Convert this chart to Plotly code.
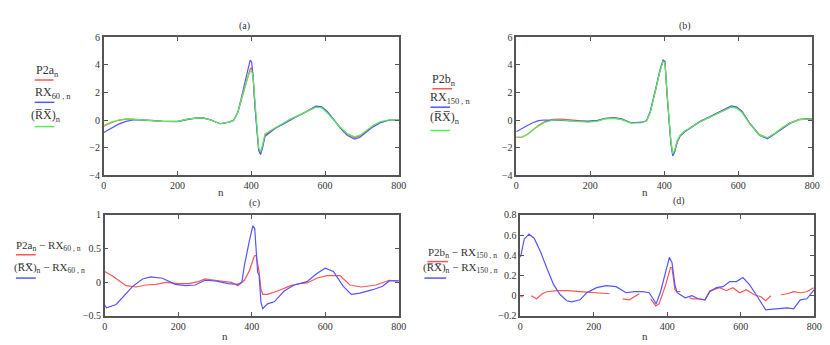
import plotly.graph_objects as go
from plotly.subplots import make_subplots

# ---- panel (a) ----
n_a = [0, 20, 40, 60, 80, 100, 130, 160, 200, 230, 250, 270, 290, 315, 340, 352, 364, 372, 381, 390,
       397, 401, 405, 410, 415, 420, 425, 430, 437, 450, 465, 485, 505, 525, 545, 560, 575, 590, 605, 620,
       640, 660, 680, 695, 710, 730, 750, 775, 800]
p2a = [-0.45, -0.2, -0.02, 0.06, 0.05, 0.0, -0.05, -0.1, -0.1, 0.08, 0.14, 0.14, 0.0, -0.27, -0.15, -0.02, 0.6, 1.4, 2.3, 3.2,
       3.7, 3.8, 3.0, 1.0, -0.9, -2.1, -2.35, -2.0, -1.1, -0.85, -0.58, -0.3, 0.03, 0.28, 0.55, 0.75, 0.95, 0.93, 0.6, 0.15,
       -0.5, -1.0, -1.28, -1.15, -0.85, -0.45, -0.18, 0.0, 0.03]
rx60 = [-0.9, -0.6, -0.3, -0.1, 0.0, 0.0, -0.02, -0.1, -0.12, 0.05, 0.14, 0.15, 0.02, -0.27, -0.15, -0.03, 0.6, 1.5, 2.5, 3.6,
        4.35, 4.2, 3.2, 1.0, -1.0, -2.2, -2.5, -2.1, -1.2, -0.9, -0.6, -0.32, 0.0, 0.27, 0.55, 0.78, 1.0, 0.98, 0.65, 0.15,
        -0.55, -1.1, -1.38, -1.25, -0.92, -0.5, -0.2, 0.0, 0.03]
rxbar_a = [-0.4, -0.15, 0.0, 0.08, 0.06, 0.0, -0.05, -0.1, -0.1, 0.08, 0.14, 0.14, 0.0, -0.27, -0.15, -0.02, 0.6, 1.4, 2.3, 3.1,
           3.5, 3.6, 3.1, 1.2, -0.8, -2.0, -2.3, -1.9, -1.0, -0.8, -0.55, -0.27, 0.05, 0.3, 0.55, 0.74, 0.92, 0.9, 0.55, 0.1,
           -0.5, -1.0, -1.22, -1.1, -0.8, -0.4, -0.12, 0.02, 0.03]

# ---- panel (b) ----
n_b = [0, 15, 30, 45, 60, 75, 100, 125, 160, 195, 220, 240, 265, 285, 310, 340, 352, 362, 377, 388,
       397, 402, 408, 413, 418, 423, 428, 435, 443, 455, 470, 497, 524, 550, 565, 581, 595, 610, 630, 657,
       679, 700, 720, 740, 765, 785, 800]
p2b = [-1.25, -1.25, -1.05, -0.7, -0.4, -0.15, 0.05, 0.07, -0.05, -0.12, -0.05, 0.1, 0.14, 0.05, -0.2, -0.18, -0.05, 0.55, 2.2, 3.5,
       4.3, 4.2, 1.8, -0.1, -1.6, -2.5, -2.3, -1.6, -1.17, -0.85, -0.6, -0.12, 0.23, 0.58, 0.8, 0.96, 0.9, 0.6, -0.2, -1.05,
       -1.3, -0.95, -0.55, -0.2, 0.05, 0.1, 0.08]
rx150 = [-0.85, -0.6, -0.4, -0.2, -0.05, 0.0, 0.0, -0.02, -0.08, -0.08, -0.02, 0.12, 0.17, 0.08, -0.2, -0.16, -0.05, 0.6, 2.3, 3.6,
         4.35, 4.25, 1.7, -0.2, -1.7, -2.6, -2.35, -1.6, -1.15, -0.85, -0.58, -0.1, 0.25, 0.6, 0.85, 1.02, 0.95, 0.65, -0.2, -1.1,
         -1.37, -1.0, -0.6, -0.25, 0.03, 0.08, 0.08]
rxbar_b = [-1.25, -1.25, -1.05, -0.7, -0.45, -0.2, 0.0, 0.0, -0.1, -0.15, -0.08, 0.08, 0.12, 0.03, -0.22, -0.2, -0.05, 0.5, 2.2, 3.5,
           4.25, 4.15, 1.8, -0.1, -1.5, -2.45, -2.2, -1.5, -1.1, -0.8, -0.58, -0.12, 0.22, 0.55, 0.78, 0.93, 0.86, 0.55, -0.25, -1.1,
           -1.28, -0.95, -0.55, -0.22, 0.03, 0.08, 0.08]

# ---- panel (c) ----
n_c_red = [0, 22, 40, 58, 85, 112, 139, 166, 201, 228, 255, 273, 300, 327, 345, 362, 380, 394, 407, 412,
           416, 420, 425, 430, 443, 470, 506, 530, 550, 577, 604, 640, 667, 698, 738, 774, 800]
diff_p2a = [0.16, 0.09, 0.02, -0.05, -0.07, -0.04, -0.03, 0.0, -0.02, -0.02, 0.01, 0.05, 0.03, 0.01, 0.0, -0.05, 0.03, 0.18, 0.39, 0.4,
            0.3, 0.15, -0.1, -0.18, -0.18, -0.13, -0.05, -0.02, -0.01, 0.06, 0.1, 0.1, -0.04, -0.07, -0.04, 0.03, 0.02]
n_c_blue = [0, 5, 31, 58, 76, 103, 125, 157, 192, 219, 246, 273, 300, 336, 362, 373, 380, 394, 403, 408,
            412, 416, 420, 425, 430, 443, 461, 488, 515, 550, 577, 600, 622, 649, 671, 694, 729, 756, 774, 800]
diff_bar_a = [-0.34, -0.38, -0.33, -0.16, -0.06, 0.05, 0.08, 0.06, -0.03, -0.05, -0.04, 0.03, 0.02, -0.02, -0.03, 0.0, 0.25, 0.63, 0.84, 0.8,
              0.39, 0.15, 0.1, -0.3, -0.39, -0.32, -0.29, -0.13, -0.04, 0.01, 0.13, 0.21, 0.16, -0.06, -0.18, -0.16, -0.11, -0.06, 0.02, 0.02]

# ---- panel (d) ----
n_d_red = [0, 8, 18, 30, 45, 60, 73, 100, 130, 163, 208, 243, 262, 279, 297, 324, 340, 355, 369, 378,
           396, 409, 413, 421, 427, 436, 448, 460, 470, 485, 503, 516, 543, 561, 579, 597, 615, 637, 655, 668,
           682, 696, 710, 727, 744, 762, 780, 798]
diff_p2b = [-0.01, -0.01, None, 0.0, -0.03, 0.02, 0.04, 0.05, 0.05, 0.04, 0.03, 0.02, None, -0.03, -0.04, 0.02, None, -0.03, -0.1, -0.08,
            0.11, 0.28, 0.28, 0.06, 0.04, 0.04, None, -0.02, -0.03, -0.03, -0.04, 0.05, 0.08, 0.05, 0.08, 0.03, 0.06, 0.01, -0.01, -0.05,
            0.0, None, 0.01, 0.02, 0.04, 0.03, 0.04, 0.08]
n_d_blue = [0, 2, 11, 24, 38, 56, 73, 91, 109, 127, 140, 163, 181, 208, 234, 261, 288, 311, 333, 351,
            360, 370, 382, 397, 406, 413, 421, 427, 449, 467, 485, 503, 516, 534, 552, 570, 588, 606, 624, 642,
            655, 668, 695, 727, 744, 762, 780, 800]
diff_bar_b = [0.38, 0.4, 0.56, 0.61, 0.57, 0.43, 0.27, 0.11, 0.01, -0.05, -0.06, -0.04, 0.03, 0.08, 0.1, 0.09, 0.03, 0.04, 0.04, 0.03,
              -0.02, -0.08, 0.04, 0.24, 0.38, 0.33, 0.11, 0.03, -0.02, 0.0, -0.03, -0.04, 0.04, 0.08, 0.09, 0.14, 0.14, 0.18, 0.11, 0.01,
              -0.07, -0.14, -0.13, -0.12, -0.13, -0.04, -0.03, 0.06]

RED = "rgb(255,85,85)"
BLUE = "rgb(85,85,255)"
GREEN = "rgb(85,240,85)"
W, H = 830, 345
FONT = "Liberation Serif, Times New Roman, serif"

fig = make_subplots(rows=2, cols=2)

def line(x, y, color, r, c):
    fig.add_trace(go.Scatter(x=x, y=y, mode="lines", line=dict(color=color, width=1.2),
                             connectgaps=False, showlegend=False, hoverinfo="skip"), row=r, col=c)

line(n_a, p2a, RED, 1, 1)
line(n_a, rx60, BLUE, 1, 1)
line(n_a, rxbar_a, GREEN, 1, 1)
line(n_b, p2b, RED, 1, 2)
line(n_b, rx150, BLUE, 1, 2)
line(n_b, rxbar_b, GREEN, 1, 2)
line(n_c_red, diff_p2a, RED, 2, 1)
line(n_c_blue, diff_bar_a, BLUE, 2, 1)
line(n_d_red, diff_p2b, RED, 2, 2)
line(n_d_blue, diff_bar_b, BLUE, 2, 2)

# plot boxes in pixels: left, right, top, bottom
boxes = {1: (94, 393, 25, 167), 2: (512, 812, 25, 167), 3: (95, 393, 208, 312), 4: (516, 814, 208, 312)}
yranges = {1: (-4, 6, 2), 2: (-4, 6, 2), 3: (-0.5, 1, 0.5), 4: (-0.2, 0.8, 0.2)}

axis_style = dict(showgrid=False, zeroline=False, showline=True, linecolor="#555", linewidth=1.5,
                  mirror="allticks", ticks="inside", ticklen=4, tickcolor="#555",
                  tickfont=dict(family=FONT, size=10, color="#333"))

for i in range(1, 5):
    l, r, t, b = boxes[i]
    sfx = "" if i == 1 else str(i)
    y0, y1, dy = yranges[i]
    fig.layout["xaxis" + sfx].update(domain=[l / W, r / W], range=[0, 800], tick0=0, dtick=200, **axis_style)
    fig.layout["yaxis" + sfx].update(domain=[1 - b / H, 1 - t / H], range=[y0, y1], tick0=y0, dtick=dy, **axis_style)

def txt(x, y, s, size=11, anchor="left"):
    fig.add_annotation(x=x / W, y=1 - y / H, xref="paper", yref="paper", text=s, showarrow=False,
                       xanchor=anchor, yanchor="middle", font=dict(family=FONT, size=size, color="#333"))

def swatch(x0, x1, y, color):
    fig.add_shape(type="line", xref="paper", yref="paper", x0=x0 / W, x1=x1 / W, y0=1 - y / H, y1=1 - y / H,
                  line=dict(color=color, width=1.5))

RXBAR = "(R\u0305X\u0305)"

# titles and axis labels
txt(237, 13, "(a)", 10, "center")
txt(683, 13, "(b)", 10, "center")
txt(247, 196, "(c)", 10, "center")
txt(677, 194, "(d)", 10, "center")
txt(213, 184, "n", 11, "center")
txt(643, 184, "n", 11, "center")
txt(217, 333, "n", 11, "center")
txt(643, 333, "n", 11, "center")

# legend-like labels
txt(23, 60, "P2a<sub>n</sub>", 12)
swatch(24, 43, 69, RED)
txt(22, 82, "RX<sub>60 , n</sub>", 12)
swatch(24, 44, 92, BLUE)
txt(18, 106, RXBAR + "<sub>n</sub>", 12)
swatch(24, 44, 117, GREEN)

txt(425, 69, "P2b<sub>n</sub>", 12)
swatch(427, 447, 78, RED)
txt(423, 88, "RX<sub>150 , n</sub>", 12)
swatch(425, 445, 97, BLUE)
txt(423, 108, RXBAR + "<sub>n</sub>", 12)
swatch(425, 445, 121, GREEN)

txt(3, 240, "P2a<sub>n</sub> \u2212 RX<sub>60 , n</sub>", 11)
swatch(5, 25, 249, RED)
txt(1, 263, RXBAR + "<sub>n</sub> \u2212 RX<sub>60 , n</sub>", 11)
swatch(5, 25, 273, BLUE)

txt(421, 247, "P2b<sub>n</sub> \u2212 RX<sub>150 , n</sub>", 11)
swatch(422, 443, 256, RED)
txt(416, 263, RXBAR + "<sub>n</sub> \u2212 RX<sub>150 , n</sub>", 11)
swatch(419, 441, 273, BLUE)

fig.update_layout(width=W, height=H, margin=dict(l=0, r=0, t=0, b=0),
                  paper_bgcolor="white", plot_bgcolor="white", showlegend=False,
                  font=dict(family=FONT, color="#333"))

fig.write_html("out.html")
